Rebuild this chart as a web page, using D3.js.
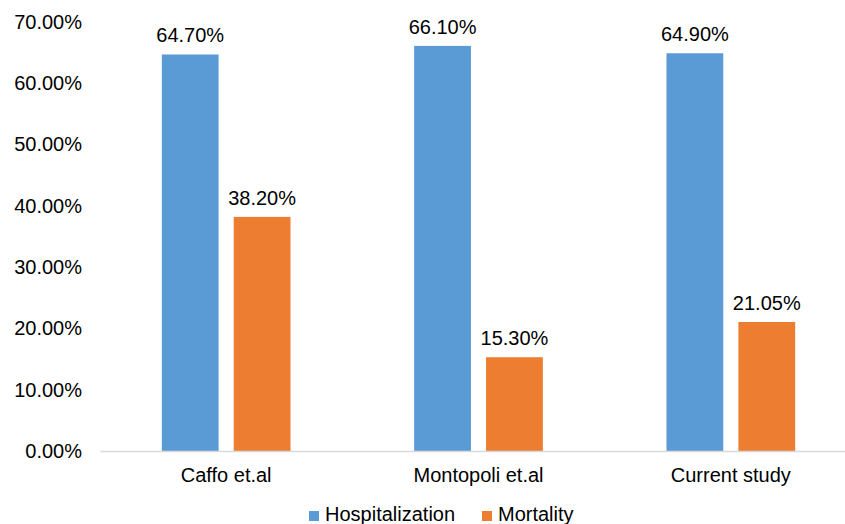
<!DOCTYPE html>
<html>
<head>
<meta charset="utf-8">
<script src="https://cdn.jsdelivr.net/npm/d3@7"></script>
<style>
  html, body { margin: 0; padding: 0; background: #fff; }
  svg { display: block; font-family: "Liberation Sans", Arial, sans-serif; }
</style>
</head>
<body>
<svg id="chart" width="845" height="524"></svg>
<script>
// Study comparison: hospitalization and mortality rates
const categories = ["Caffo et.al", "Montopoli et.al", "Current study"];
const seriesNames = ["Hospitalization", "Mortality"];
const hospitalization = [64.70, 66.10, 64.90];
const mortality = [38.20, 15.30, 21.05];
const yTicks = [0, 10, 20, 30, 40, 50, 60, 70];
const colors = ["#5B9BD5", "#ED7D31"];

const svg = d3.select("#chart");
const values = [hospitalization, mortality];

const x0 = d3.scaleBand()
  .domain(categories)
  .range([100, 857])
  .paddingInner(0.49)
  .paddingOuter(0.245);

const x1 = d3.scaleBand()
  .domain(seriesNames)
  .range([0, x0.bandwidth()])
  .paddingInner(0.21);

const y = d3.scaleLinear()
  .domain([0, 70])
  .range([451, 22]);

// Y axis labels (no line, no ticks)
const yAxis = svg.append("g")
  .attr("transform", "translate(82,0)")
  .call(d3.axisLeft(y).tickValues(yTicks).tickSize(0).tickPadding(0)
    .tickFormat(d => d3.format(".2f")(d) + "%"));
yAxis.select(".domain").remove();
yAxis.selectAll("text")
  .attr("font-size", 20)
  .attr("font-family", "Liberation Sans, Arial, sans-serif")
  .attr("fill", "#000");

// Bars
const groups = svg.append("g")
  .selectAll("g")
  .data(categories)
  .join("g")
  .attr("transform", d => `translate(${x0(d)},0)`);

groups.selectAll("rect")
  .data((d, i) => seriesNames.map((s, k) => ({ s, k, v: values[k][i] })))
  .join("rect")
  .attr("x", d => x1(d.s))
  .attr("width", x1.bandwidth())
  .attr("y", d => y(d.v))
  .attr("height", d => y(0) - y(d.v))
  .attr("fill", d => colors[d.k]);

// Value labels
groups.selectAll("text.val")
  .data((d, i) => seriesNames.map((s, k) => ({ s, k, v: values[k][i] })))
  .join("text")
  .attr("class", "val")
  .attr("x", d => x1(d.s) + x1.bandwidth() / 2)
  .attr("y", d => y(d.v) - 12)
  .attr("text-anchor", "middle")
  .attr("font-size", 20)
  .attr("fill", "#000")
  .text(d => d3.format(".2f")(d.v) + "%");

// X axis
const xAxis = svg.append("g")
  .attr("transform", `translate(0,${y(0)})`)
  .call(d3.axisBottom(x0).tickSize(0).tickPadding(17));
xAxis.select(".domain")
  .attr("stroke", "#D9D9D9")
  .attr("stroke-width", 1.3);
xAxis.selectAll("text")
  .attr("font-size", 20)
  .attr("font-family", "Liberation Sans, Arial, sans-serif")
  .attr("fill", "#000");

// Legend
const legendX = [309, 482];
const legend = svg.append("g")
  .selectAll("g")
  .data(seriesNames)
  .join("g")
  .attr("transform", (d, i) => `translate(${legendX[i]},511)`);
legend.append("rect")
  .attr("width", 10)
  .attr("height", 10)
  .attr("fill", (d, i) => colors[i]);
legend.append("text")
  .attr("x", 16)
  .attr("y", 10)
  .attr("font-size", 20)
  .attr("fill", "#000")
  .text(d => d);
</script>
</body>
</html>
